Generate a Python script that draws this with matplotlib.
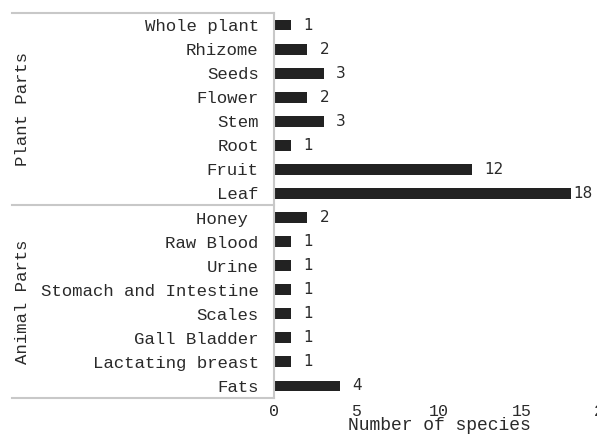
import matplotlib.pyplot as plt
from matplotlib.transforms import blended_transform_factory

plant_parts = ["Whole plant", "Rhizome", "Seeds", "Flower", "Stem", "Root", "Fruit", "Leaf"]
plant_counts = [1, 2, 3, 2, 3, 1, 12, 18]
animal_parts = ["Honey ", "Raw Blood", "Urine", "Stomach and Intestine", "Scales",
                "Gall Bladder", "Lactating breast", "Fats"]
animal_counts = [2, 1, 1, 1, 1, 1, 1, 4]
groups = ["Plant Parts", "Animal Parts"]
xticks = [0, 5, 10, 15, 20]

labels = plant_parts + animal_parts
counts = plant_counts + animal_counts
ypos = list(range(len(labels)))

mono = "Liberation Mono"
ink = "#2a2a2a"
fig = plt.figure(figsize=(5.97, 4.37), dpi=100)
ax = fig.add_axes([274 / 597, 39 / 437, 330 / 597, 385 / 437])

ax.barh(ypos, counts, height=0.45, color="#222222")
ax.set_ylim(len(labels) - 0.5, -0.5)
ax.set_xlim(0, 20)
ax.set_yticks(ypos)
ax.set_yticklabels(labels, fontfamily=mono, fontsize=12.5, color=ink)
ax.set_xticks(xticks)
ax.set_xticklabels([str(t) for t in xticks], fontfamily=mono, fontsize=12, color=ink)
ax.tick_params(axis="y", length=0, pad=11)
ax.tick_params(axis="x", length=0, pad=4)
ax.set_xlabel("Number of species", fontfamily=mono, fontsize=13, color=ink, labelpad=-1)
for s in ["top", "right", "bottom"]:
    ax.spines[s].set_visible(False)
ax.spines["left"].set_color("#c8c8c8")
ax.spines["left"].set_linewidth(1.5)

top = max(counts)
for y, v in zip(ypos, counts):
    off = 9 if v < top else 2
    ax.annotate(str(v), (v, y), xytext=(off, 0), textcoords="offset points",
                va="center", ha="left", fontsize=11, color=ink)

# frame lines to the left of the axis
tr = blended_transform_factory(ax.transAxes, ax.transData)
n_plant = len(plant_parts)
for yl in [-0.5, n_plant - 0.5, len(labels) - 0.5]:
    ax.plot([-262 / 330, 0], [yl, yl], transform=tr, color="#c8c8c8", lw=1.5, clip_on=False)

# group labels
ax.text(-251 / 330, (n_plant - 1) / 2, groups[0], transform=tr, rotation=90,
        ha="center", va="center", fontfamily=mono, fontsize=12.5, color=ink)
ax.text(-251 / 330, n_plant + (len(animal_parts) - 1) / 2, groups[1], transform=tr, rotation=90,
        ha="center", va="center", fontfamily=mono, fontsize=12.5, color=ink)

fig.savefig("out.png", dpi=100)
